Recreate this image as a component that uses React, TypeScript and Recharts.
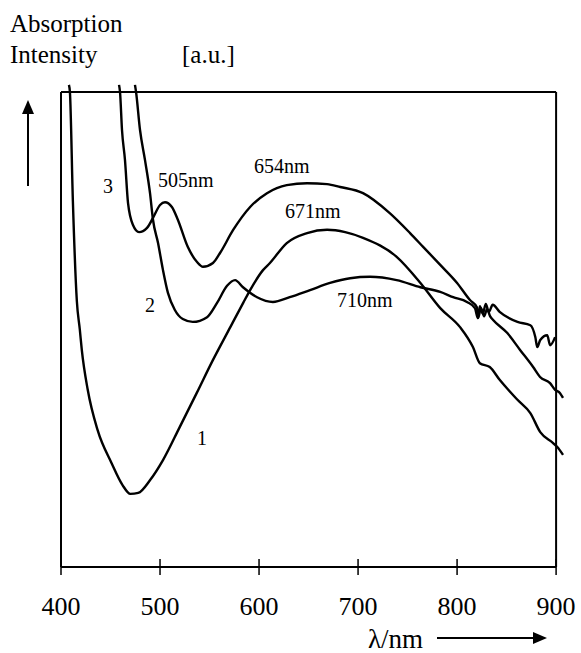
import { LineChart, Line, XAxis, YAxis, ReferenceLine } from "recharts";

const FONT = '"Liberation Serif", "Times New Roman", serif';

const xTicks = [400, 500, 600, 700, 800, 900];
const yTicks = [0, 50, 100];

// curve 1 (min ~470 nm, peak 671 nm)
const curve1Nm = [408, 409, 412, 416, 419, 421, 427, 437, 451, 462, 470, 478, 490, 503, 520, 537, 553.5, 571, 584, 591, 604, 611, 628, 648.5, 668.7, 687, 705, 739, 763, 783, 803, 816, 823, 833, 843, 861, 874, 884, 897, 901, 907];
const curve1Abs = [101.5, 100, 77, 56, 50, 45.7, 37.3, 28.8, 21.9, 17.3, 15.4, 15.6, 18.3, 22.5, 29.5, 36.6, 43.6, 50.5, 55.6, 58.3, 62.5, 64, 68.2, 70.3, 71, 70.5, 69.3, 65.3, 59.8, 54.5, 50.5, 46.3, 42.9, 42.1, 39.4, 35.2, 32.4, 28.4, 26.1, 25.3, 23.6];

// curve 2 (small peak ~577 nm, broad peak 710 nm)
const curve2Nm = [474.7, 475.8, 479.8, 484.8, 489.9, 492.9, 498, 503, 508, 515, 523, 533, 547.5, 557.6, 567.7, 575.8, 583.8, 598, 614, 631, 651.5, 671.7, 692, 712, 739, 763, 783, 796, 810, 818, 821, 823, 826, 829, 832, 836, 843, 861, 874, 879, 881, 884, 891, 894, 899];
const curve2Abs = [101.5, 100, 92, 85.7, 78.7, 73.1, 68.2, 62.5, 57.7, 54.1, 52.2, 51.6, 52.6, 55.6, 59.2, 60.4, 58.9, 56.8, 55.8, 56.8, 58.3, 59.8, 60.8, 61.1, 60.4, 58.9, 57.9, 56.8, 55.8, 54.5, 52.4, 54.9, 53.3, 55.4, 53.7, 55.2, 53.7, 51.6, 50.9, 48.4, 46.3, 47.8, 48.8, 46.7, 48.4];

// curve 3 (peaks 505 nm and 654 nm)
const curve3Nm = [458.6, 459.6, 461.6, 464.6, 467.7, 472.7, 478.8, 486.9, 492.9, 500, 505, 512, 518, 528, 537.4, 543.4, 553.5, 560.6, 573.7, 591, 608, 628, 648.5, 668.7, 682, 705, 732, 752.5, 765.7, 783, 800, 813, 820, 821.2, 824.2, 827.3, 830.3, 833.3, 836.4, 850.5, 863.6, 876.8, 883.8, 893.9, 899, 904, 907];
const curve3Abs = [101.5, 100, 92, 85.7, 76.6, 72, 70.5, 71.4, 73.5, 76.2, 76.8, 75.8, 73.1, 67.4, 64.2, 63.2, 64, 66.1, 70.9, 75.8, 78.7, 80.4, 80.8, 80.6, 80, 78.7, 74.5, 70.3, 67.4, 63.6, 59.8, 56.2, 54.7, 52.4, 54.5, 52.8, 54.3, 52.8, 52, 49.3, 45.7, 42.1, 40, 38.7, 37.3, 36.6, 35.6];

const toRows = (nm: number[], abs: number[]) => nm.map((x, i) => ({ x, y: abs[i] }));

const curves = [
  { key: "c1", data: toRows(curve1Nm, curve1Abs) },
  { key: "c2", data: toRows(curve2Nm, curve2Abs) },
  { key: "c3", data: toRows(curve3Nm, curve3Abs) },
];

const curveLabels = [
  { text: "3", x: 103, y: 193 },
  { text: "505nm", x: 158, y: 187 },
  { text: "654nm", x: 254, y: 173 },
  { text: "671nm", x: 285, y: 218 },
  { text: "2", x: 145, y: 312 },
  { text: "710nm", x: 337, y: 307 },
  { text: "1", x: 197, y: 445 },
];

function XTick(props: any) {
  const { x, y, payload } = props;
  return (
    <g>
      <line x1={x} y1={y - 8} x2={x} y2={y + 8} stroke="#000" strokeWidth={1.5} />
      <text x={x} y={y + 48} textAnchor="middle" fontFamily={FONT} fontSize={26} fill="#000">
        {payload.value}
      </text>
    </g>
  );
}

function YTick(props: any) {
  const { x, y } = props;
  return <line x1={x - 9} y1={y} x2={x + 6} y2={y} stroke="#000" strokeWidth={1.5} />;
}

export default function App() {
  const frame = { stroke: "#000", strokeWidth: 2 };
  return (
    <div style={{ position: "absolute", left: 0, top: 0, width: 581, height: 653, background: "#fff" }}>
      <LineChart
        width={581}
        height={653}
        margin={{ top: 82.5, right: 15, bottom: 46, left: 61 }}
      >
        <XAxis
          type="number"
          dataKey="x"
          domain={[400, 910]}
          ticks={xTicks}
          axisLine={false}
          tickLine={false}
          tickSize={0}
          tickMargin={0}
          height={40}
          tick={<XTick />}
          interval={0}
        />
        <YAxis
          type="number"
          dataKey="y"
          domain={[0, 102]}
          ticks={yTicks}
          width={0}
          axisLine={false}
          tickLine={false}
          tickSize={0}
          tickMargin={0}
          tick={<YTick />}
          interval={0}
        />
        <ReferenceLine segment={[{ x: 400, y: 0 }, { x: 900, y: 0 }]} {...frame} />
        <ReferenceLine segment={[{ x: 400, y: 100 }, { x: 900, y: 100 }]} {...frame} />
        <ReferenceLine segment={[{ x: 400, y: 0 }, { x: 400, y: 100 }]} {...frame} />
        <ReferenceLine segment={[{ x: 900, y: 0 }, { x: 900, y: 100 }]} {...frame} />
        {curves.map((c) => (
          <Line
            key={c.key}
            data={c.data}
            dataKey="y"
            type="monotone"
            stroke="#000"
            strokeWidth={2.4}
            dot={false}
            isAnimationActive={false}
          />
        ))}
      </LineChart>
      <svg
        width={581}
        height={653}
        style={{ position: "absolute", left: 0, top: 0, pointerEvents: "none" }}
      >
        <text x={10} y={32} fontSize={25} fontFamily={FONT}>Absorption</text>
        <text x={10} y={63} fontSize={25} fontFamily={FONT}>Intensity</text>
        <text x={182} y={63} fontSize={25} fontFamily={FONT}>[a.u.]</text>
        {curveLabels.map((l) => (
          <text key={l.text} x={l.x} y={l.y} fontSize={20} fontFamily={FONT}>{l.text}</text>
        ))}
        <line x1={28} y1={186} x2={28} y2={112} stroke="#000" strokeWidth={2} />
        <polygon points="22,114 34,114 28,100" fill="#000" />
        <text x={368} y={648} fontSize={27} fontFamily={FONT}>λ/nm</text>
        <line x1={437} y1={638} x2={536} y2={638} stroke="#000" strokeWidth={2} />
        <polygon points="533,632 533,644 547,638" fill="#000" />
      </svg>
    </div>
  );
}
